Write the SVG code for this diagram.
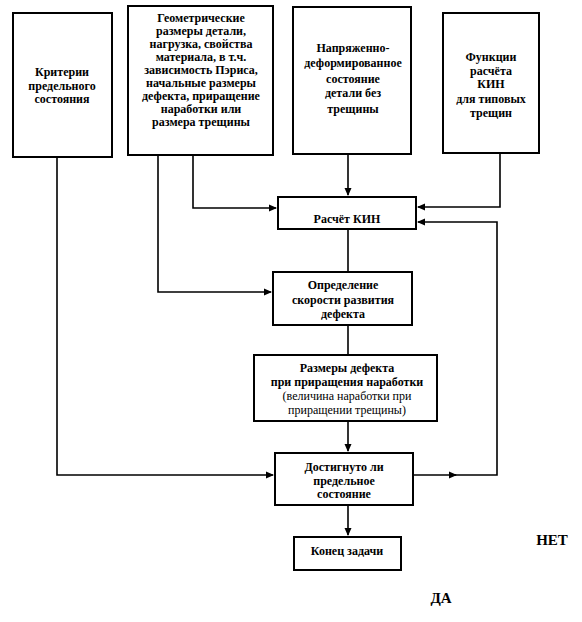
<svg xmlns="http://www.w3.org/2000/svg" width="582" height="622" viewBox="0 0 582 622">
<style>
.box{fill:#fff;stroke:#000;stroke-width:2}
.t{font-family:"Liberation Serif","Times New Roman",serif;font-size:12px;font-weight:bold;text-anchor:middle;fill:#000}
.r{font-weight:normal}
.big{font-size:15px}
.c{fill:none;stroke:#000;stroke-width:1.6}
</style>
<defs>
<marker id="ah" markerWidth="8" markerHeight="8" refX="7" refY="4" orient="auto" markerUnits="userSpaceOnUse">
<path d="M0,0.5 L8,4 L0,7.5 Z" fill="#000"/>
</marker>
</defs>
<rect width="582" height="622" fill="#fff"/>
<g id="connectors">
<path class="c" d="M57,157 V475 H273" marker-end="url(#ah)"/>
<path class="c" d="M158,155 V292 H271" marker-end="url(#ah)"/>
<path class="c" d="M193,155 V208 H276" marker-end="url(#ah)"/>
<path class="c" d="M348,154 V195" marker-end="url(#ah)"/>
<path class="c" d="M500,153 V207 H418" marker-end="url(#ah)"/>
<path class="c" d="M348,229 V272"/>
<path class="c" d="M348,325 V355"/>
<path class="c" d="M348,421 V451" marker-end="url(#ah)"/>
<path class="c" d="M413,475 H456" marker-end="url(#ah)"/>
<path class="c" d="M452,475 H497 V222 H418" marker-end="url(#ah)"/>
<path class="c" d="M348,505 V535" marker-end="url(#ah)"/>
</g>
<g id="n1">
<rect class="box" x="13" y="13" width="99" height="144"/>
<text class="t" x="62" y="76">Критерии</text>
<text class="t" x="62" y="90">предельного</text>
<text class="t" x="62" y="103">состояния</text>
</g>
<g id="n2">
<rect class="box" x="128" y="6" width="145" height="149"/>
<text class="t" x="201" y="22">Геометрические</text>
<text class="t" x="201" y="35">размеры детали,</text>
<text class="t" x="201" y="48">нагрузка, свойства</text>
<text class="t" x="201" y="61">материала, в т.ч.</text>
<text class="t" x="201" y="74">зависимость Пэриса,</text>
<text class="t" x="201" y="87">начальные размеры</text>
<text class="t" x="201" y="100">дефекта, приращение</text>
<text class="t" x="201" y="113">наработки или</text>
<text class="t" x="201" y="126">размера трещины</text>
</g>
<g id="n3">
<rect class="box" x="293" y="7" width="118" height="147"/>
<text class="t" x="353" y="52">Напряженно-</text>
<text class="t" x="353" y="67">деформированное</text>
<text class="t" x="353" y="83">состояние</text>
<text class="t" x="353" y="97">детали без</text>
<text class="t" x="353" y="113">трещины</text>
</g>
<g id="n4">
<rect class="box" x="443" y="13" width="96" height="140"/>
<text class="t" x="491" y="61">Функции</text>
<text class="t" x="491" y="75">расчёта</text>
<text class="t" x="491" y="88">КИН</text>
<text class="t" x="491" y="103">для типовых</text>
<text class="t" x="491" y="117">трещин</text>
</g>
<g id="n5">
<rect class="box" x="278" y="197" width="138" height="32"/>
<text class="t" x="347" y="223">Расчёт КИН</text>
</g>
<g id="n6">
<rect class="box" x="273" y="272" width="139" height="53"/>
<text class="t" x="343" y="289">Определение</text>
<text class="t" x="343" y="304">скорости развития</text>
<text class="t" x="343" y="318">дефекта</text>
</g>
<g id="n7">
<rect class="box" x="254" y="355" width="183" height="66"/>
<text class="t" x="347" y="372">Размеры дефекта</text>
<text class="t" x="347" y="386">при приращения наработки</text>
<text class="t r" x="347" y="400">(величина наработки при</text>
<text class="t r" x="347" y="414">приращении трещины)</text>
</g>
<g id="n8">
<rect class="box" x="275" y="453" width="138" height="52"/>
<text class="t" x="344" y="471">Достигнуто ли</text>
<text class="t" x="344" y="485">предельное</text>
<text class="t" x="344" y="498">состояние</text>
</g>
<g id="n9">
<rect class="box" x="294" y="537" width="107" height="33"/>
<text class="t" x="347" y="555">Конец задачи</text>
</g>
<text class="t big" x="552" y="545">НЕТ</text>
<text class="t big" x="441" y="603">ДА</text>
</svg>
